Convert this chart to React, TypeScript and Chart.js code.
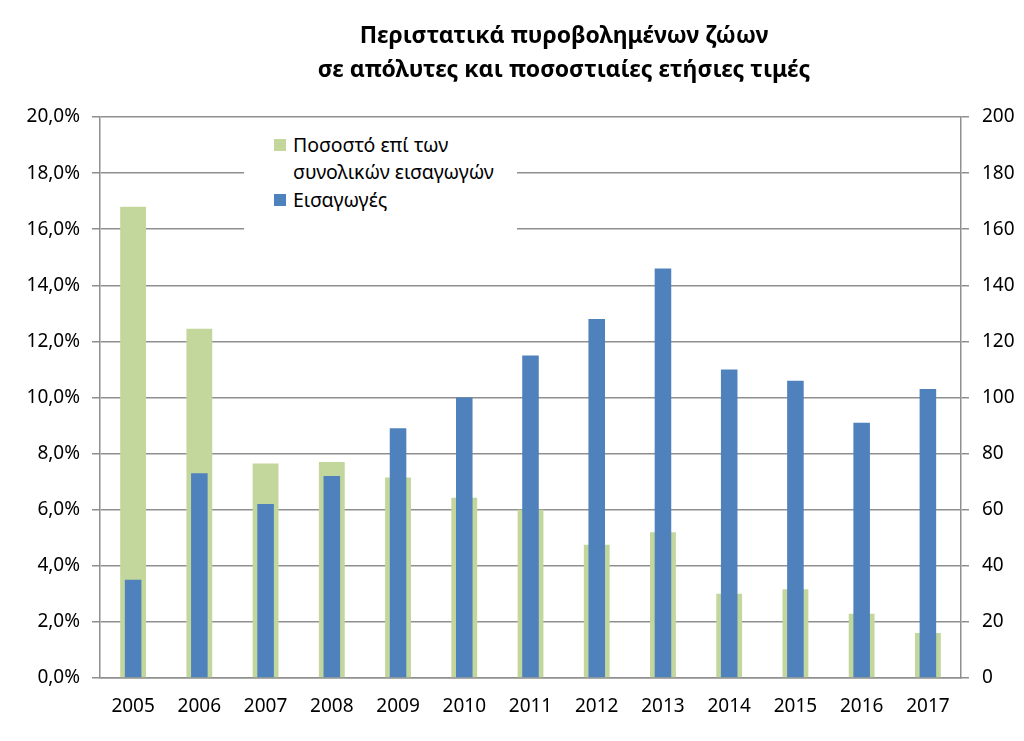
import React, { useEffect, useRef } from "react";
import { Chart, registerables } from "chart.js";

Chart.register(...registerables);

const years = ["2005", "2006", "2007", "2008", "2009", "2010", "2011", "2012", "2013", "2014", "2015", "2016", "2017"];
const sharePct = [16.8, 12.45, 7.65, 7.7, 7.15, 6.43, 6.0, 4.75, 5.2, 3.0, 3.16, 2.29, 1.6];
const imports = [35, 73, 62, 72, 89, 100, 115, 128, 146, 110, 106, 91, 103];
const titleLines = ["Περιστατικά πυροβολημένων ζώων", "σε απόλυτες και ποσοστιαίες ετήσιες τιμές"];
const shareLabel = "Ποσοστό επί των συνολικών εισαγωγών";
const shareLabelLines = ["Ποσοστό επί των", "συνολικών εισαγωγών"];
const importsLabel = "Εισαγωγές";

const GREEN = "#c3d69b";
const BLUE = "#4f81bd";
const GRID = "#8f8f8f";
const FONT = "'Noto Sans', 'Open Sans', sans-serif";

export default function App() {
  const ref = useRef<HTMLCanvasElement | null>(null);

  useEffect(() => {
    if (!ref.current) return;
    const chart = new Chart(ref.current, {
      type: "bar",
      data: {
        labels: years,
        datasets: [
          {
            label: shareLabel,
            data: sharePct.map((v) => v / 100),
            backgroundColor: GREEN,
            yAxisID: "yL",
            grouped: false,
            categoryPercentage: 1,
            barPercentage: 0.39,
            order: 1,
          },
          {
            label: importsLabel,
            data: imports,
            backgroundColor: BLUE,
            yAxisID: "yR",
            grouped: false,
            categoryPercentage: 1,
            barPercentage: 0.25,
            order: 0,
          },
        ],
      },
      options: {
        responsive: false,
        animation: false,
        layout: { padding: { top: 117, left: 0, right: 0, bottom: 0 } },
        plugins: {
          legend: { display: false },
          title: { display: false },
          tooltip: { enabled: false },
        },
        scales: {
          x: {
            grid: { display: false, drawTicks: false },
            border: { display: true, color: GRID, width: 1.5 },
            ticks: { color: "#000", font: { family: FONT, size: 19 }, padding: 17, maxRotation: 0 },
            afterFit: (s: any) => { s.height = 63; },
          },
          yL: {
            position: "left",
            min: 0,
            max: 0.2,
            ticks: {
              stepSize: 0.02,
              color: "#000",
              padding: 12,
              font: { family: FONT, size: 19 },
              callback: (v: any) => (Number(v) * 100).toFixed(1).replace(".", ",") + "%",
            },
            grid: { color: GRID, lineWidth: 1.5, tickLength: 8, drawTicks: true },
            border: { display: true, color: GRID, width: 1.5 },
            afterFit: (s: any) => { s.width = 100; },
          },
          yR: {
            position: "right",
            min: 0,
            max: 200,
            ticks: { stepSize: 20, color: "#000", padding: 13, font: { family: FONT, size: 19 } },
            grid: { display: true, drawOnChartArea: false, color: GRID, lineWidth: 1.5, tickLength: 8 },
            border: { display: true, color: GRID, width: 1.5 },
            afterFit: (s: any) => { s.width = 63; },
          },
        },
      },
    });
    return () => chart.destroy();
  }, []);

  const sq = (c: string) => (
    <span style={{ display: "inline-block", width: 12, height: 12, background: c, marginRight: 7, position: "relative", top: 0 }} />
  );

  return (
    <div style={{ position: "fixed", left: 0, top: 0, width: 1024, height: 741, background: "#fff" }}>
      <canvas ref={ref} width={1024} height={741} style={{ position: "absolute", left: 0, top: 0 }} />
      <div
        style={{
          position: "absolute",
          left: 214,
          top: 17,
          width: 700,
          textAlign: "center",
          fontFamily: FONT,
          fontWeight: 700,
          fontSize: 23,
          lineHeight: "34px",
          color: "#000",
        }}
      >
        {titleLines.map((t, i) => (
          <div key={i}>{t}</div>
        ))}
      </div>
      <div
        style={{
          position: "absolute",
          left: 244,
          top: 128,
          width: 273,
          height: 110,
          background: "#fff",
          fontFamily: FONT,
          fontSize: 19.5,
          lineHeight: "27px",
          color: "#000",
        }}
      >
        <div style={{ position: "absolute", left: 30, top: 3, display: "flex", alignItems: "center" }}>
          {sq(GREEN)}
          <span>{shareLabelLines[0]}</span>
        </div>
        <div style={{ position: "absolute", left: 49, top: 30 }}>{shareLabelLines[1]}</div>
        <div style={{ position: "absolute", left: 30, top: 58, display: "flex", alignItems: "center" }}>
          {sq(BLUE)}
          <span>{importsLabel}</span>
        </div>
      </div>
    </div>
  );
}
